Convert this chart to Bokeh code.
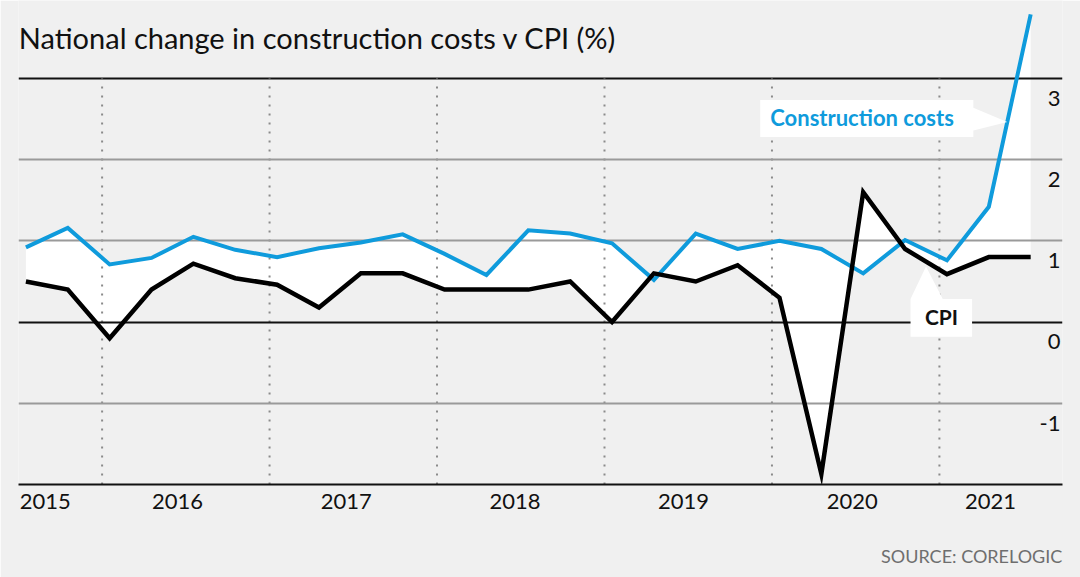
from bokeh.plotting import figure
from bokeh.models import FixedTicker, Grid, Label, PolyAnnotation, Range1d, LinearAxis
from bokeh.core.properties import value
from bokeh.embed import file_html
from bokeh.resources import INLINE

# ---- data (quarterly % change, Sep 2015 .. Sep 2021) ----
quarters = ["Sep 2015", "Dec 2015", "Mar 2016", "Jun 2016", "Sep 2016", "Dec 2016",
            "Mar 2017", "Jun 2017", "Sep 2017", "Dec 2017", "Mar 2018", "Jun 2018",
            "Sep 2018", "Dec 2018", "Mar 2019", "Jun 2019", "Sep 2019", "Dec 2019",
            "Mar 2020", "Jun 2020", "Sep 2020", "Dec 2020", "Mar 2021", "Jun 2021",
            "Sep 2021"]
construction_costs = [0.92, 1.16, 0.71, 0.79, 1.05, 0.89, 0.80, 0.91, 0.98, 1.08,
                      0.84, 0.58, 1.13, 1.09, 0.97, 0.52, 1.09, 0.90, 1.00, 0.90,
                      0.60, 1.01, 0.76, 1.42, 3.79]
cpi = [0.5, 0.4, -0.2, 0.4, 0.72, 0.54, 0.46, 0.18, 0.6, 0.6,
       0.4, 0.4, 0.4, 0.5, 0.0, 0.6, 0.5, 0.7, 0.3, -1.87,
       1.6, 0.9, 0.59, 0.8, 0.8]
year_labels = ["2015", "2016", "2017", "2018", "2019", "2020", "2021"]
year_label_pos = [0.46, 3.62, 7.65, 11.68, 15.71, 19.74, 23.04]
year_boundaries = [1.82, 5.82, 9.82, 13.82, 17.82, 21.82]
y_ticks = [3, 2, 1, 0, -1]
source_text = "SOURCE: CORELOGIC"

x = list(range(len(quarters)))

BG = "#f0f0f0"
BLUE = "#0f9bdc"
FONT = "Lato"

p = figure(width=1080, height=577,
           x_range=Range1d(-0.177, 24.76), y_range=Range1d(-2, 3.96),
           output_backend="svg", toolbar_location=None, y_axis_location=None,
           min_border_left=18, min_border_right=18, min_border_top=0,
           min_border_bottom=93,
           background_fill_color=BG, border_fill_color=BG,
           outline_line_color=None)
p.grid.visible = False

# white band between the two series
p.varea(x=x, y1=cpi, y2=construction_costs, fill_color="white", level="image")

# horizontal grids
g_top = Grid(dimension=1, ticker=FixedTicker(ticks=[3]), grid_line_color="#111111",
             grid_line_width=2, level="image")
g_gray = Grid(dimension=1, ticker=FixedTicker(ticks=[-1, 1, 2]), grid_line_color="#9a9a9a",
              grid_line_width=2)
g_zero = Grid(dimension=1, ticker=FixedTicker(ticks=[0]), grid_line_color="#111111",
              grid_line_width=2)
for g in (g_top, g_gray, g_zero):
    p.add_layout(g)

# dotted year separators, from the top gridline down to the axis
n = len(year_boundaries)
p.segment(x0=year_boundaries, y0=[-2] * n, x1=year_boundaries, y1=[max(y_ticks)] * n,
          line_color="#8a8a8a", line_width=2, line_dash="2 7", level="underlay")

# series
p.line(x, construction_costs, line_color=BLUE, line_width=4, line_join="miter")
p.line(x, cpi, line_color="black", line_width=4.5, line_join="miter")

# label boxes (white callouts)
t = 0.44
tip_x = 23 + t
tip_y = construction_costs[23] + t * (construction_costs[24] - construction_costs[23])
cc_box = PolyAnnotation(xs=[17.54, 22.63, 22.63, tip_x, 22.63, 22.63, 17.54],
                        ys=[2.734, 2.734, 2.64, tip_y, 2.36, 2.278, 2.278],
                        fill_color="white", fill_alpha=1, line_alpha=0, level="guide")
p.add_layout(cc_box)
cpi_tip_x = 21.5
cpi_tip_y = cpi[21] + 0.5 * (cpi[22] - cpi[21]) - 0.06
cpi_box = PolyAnnotation(xs=[21.13, 21.13, cpi_tip_x, 21.9, 22.6, 22.6],
                         ys=[-0.182, 0.283, cpi_tip_y, 0.283, 0.283, -0.182],
                         fill_color="white", fill_alpha=1, line_alpha=0, level="guide")
p.add_layout(cpi_box)

# x axis
ax = p.xaxis[0]
ax.ticker = FixedTicker(ticks=year_label_pos)
ax.major_label_overrides = {pos: lab for pos, lab in zip(year_label_pos, year_labels)}
ax.major_tick_line_color = None
ax.minor_tick_line_color = None
ax.major_tick_out = 0
ax.major_tick_in = 0
ax.axis_line_color = "#111111"
ax.axis_line_width = 2
ax.major_label_text_font = FONT
ax.major_label_text_font_size = "22px"
ax.major_label_text_color = "#111111"
ax.major_label_standoff = 9

# source note, as a second (line-less) axis stacked under the first
src_pos = 22.59
src_ax = LinearAxis(ticker=FixedTicker(ticks=[src_pos]),
                    major_label_overrides={src_pos: source_text},
                    axis_line_color=None, major_tick_line_color=None,
                    minor_tick_line_color=None, major_tick_out=0, major_tick_in=0,
                    major_label_standoff=33, major_label_text_font=FONT,
                    major_label_text_font_size="18px", major_label_text_color="#6e6e6e")
p.add_layout(src_ax, "below")

# y labels, right-aligned under each gridline
p.text(x=[24.71] * len(y_ticks), y=[v - 0.245 for v in y_ticks],
       text=[str(v) for v in y_ticks], text_align="right", text_baseline="alphabetic",
       text_font=value(FONT), text_font_size="22px", text_color="#111111")

# texts
p.add_layout(Label(x=-0.17, y=3.51, text="National change in construction costs v CPI (%)",
                   text_font=FONT, text_font_size="29px",
                   text_color="#111111", text_align="left", text_baseline="alphabetic"))
p.add_layout(Label(x=17.78, y=2.52, text="Construction costs",
                   text_font=FONT, text_font_style="bold", text_font_size="22px",
                   text_color=BLUE, text_align="left", text_baseline="alphabetic"))
p.add_layout(Label(x=21.87, y=0.063, text="CPI",
                   text_font=FONT, text_font_style="bold", text_font_size="21px",
                   text_color="#111111", text_align="center", text_baseline="alphabetic"))

open("out.html", "w").write(file_html(p, INLINE))
